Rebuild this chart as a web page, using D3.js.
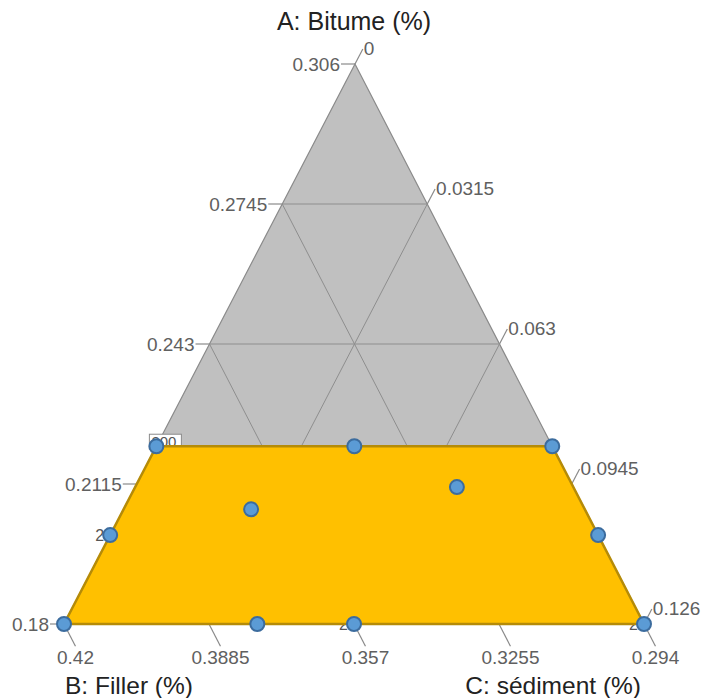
<!DOCTYPE html>
<html>
<head>
<meta charset="utf-8">
<script src="https://cdn.jsdelivr.net/npm/d3@7"></script>
<style>
  html, body { margin: 0; padding: 0; background: #fff; }
  svg { display: block; font-family: "Liberation Sans", Arial, sans-serif; }
</style>
</head>
<body>
<svg id="chart" width="704" height="698"></svg>
<script>
// ---- Data ----
const axisTitles = ["A: Bitume (%)", "B: Filler (%)", "C: sédiment (%)"];
const aTicks = [0.18, 0.2115, 0.243, 0.2745, 0.306];
const bTicks = [0.42, 0.3885, 0.357, 0.3255, 0.294];
const cTicks = [0, 0.0315, 0.063, 0.0945, 0.126];
const aTickLabels = ["0.18", "0.2115", "0.243", "0.2745", "0.306"];
const bTickLabels = ["0.42", "0.3885", "0.357", "0.3255", "0.294"];
const cTickLabels = ["0", "0.0315", "0.063", "0.0945", "0.126"];

// design points (real component values)
const ptA = [0.22, 0.22, 0.22, 0.18, 0.18, 0.18, 0.18, 0.20, 0.20, 0.2058, 0.2108];
const ptB = [0.38, 0.337, 0.294, 0.42, 0.378, 0.357, 0.294, 0.40, 0.294, 0.3665, 0.3193];
const ptC = [0, 0.043, 0.086, 0, 0.042, 0.063, 0.126, 0, 0.106, 0.0277, 0.0699];

// replicate labels (index into points, text)
const repIdx = [7, 5, 6];
const repText = ["2", "2", "2"];

// constrained region
const regA = [0.18, 0.22, 0.22, 0.18];
const regB = [0.42, 0.38, 0.294, 0.294];
const regC = [0, 0, 0.086, 0.126];

// ---- Scales ----
const aS = d3.scaleLinear().domain([0.18, 0.306]).range([0, 1]);
const bS = d3.scaleLinear().domain([0.294, 0.42]).range([0, 1]);
const cS = d3.scaleLinear().domain([0, 0.126]).range([0, 1]);

const V = { A: [355, 64], B: [64, 624], C: [644, 624] };
function proj(a, b, c) {
  return [a * V.A[0] + b * V.B[0] + c * V.C[0], a * V.A[1] + b * V.B[1] + c * V.C[1]];
}
function projReal(A, B, C) { return proj(aS(A), bS(B), cS(C)); }

const svg = d3.select("#chart");
const line = d3.line();

// grey triangle
svg.append("path")
  .attr("d", line([V.A, V.B, V.C]) + "Z")
  .attr("fill", "#c0c0c0").attr("stroke", "#8a8a8a").attr("stroke-width", 1.2);

// grid lines
const gridG = svg.append("g").attr("stroke", "#8e8e8e").attr("stroke-width", 1).attr("fill", "none");
[0.25, 0.5, 0.75].forEach(t => {
  gridG.append("path").attr("d", line([proj(t, 1 - t, 0), proj(t, 0, 1 - t)]));
  gridG.append("path").attr("d", line([proj(1 - t, t, 0), proj(0, t, 1 - t)]));
  gridG.append("path").attr("d", line([proj(1 - t, 0, t), proj(0, 1 - t, t)]));
});

// ticks + labels
const tickCol = "#8a8a8a", labCol = "#606060", fs = 19;
const tg = svg.append("g");
// A axis (left)
aTicks.forEach((v, i) => {
  const t = aS(v);
  const p = proj(t, 1 - t, 0);
  tg.append("line").attr("x1", p[0]).attr("y1", p[1]).attr("x2", p[0] - 14).attr("y2", p[1])
    .attr("stroke", tickCol).attr("stroke-width", 1.2);
  tg.append("text").attr("x", p[0] - 15).attr("y", p[1]).attr("dy", "0.35em")
    .attr("text-anchor", "end").attr("font-size", fs).attr("fill", labCol).text(aTickLabels[i]);
});
// C axis (right)
const dirL = [V.A[0] - V.B[0], V.A[1] - V.B[1]];
const lenL = Math.hypot(dirL[0], dirL[1]);
cTicks.forEach((v, i) => {
  const t = cS(v);
  const p = proj(1 - t, 0, t);
  const e = [p[0] + dirL[0] / lenL * 17, p[1] + dirL[1] / lenL * 17];
  tg.append("line").attr("x1", p[0]).attr("y1", p[1]).attr("x2", e[0]).attr("y2", e[1])
    .attr("stroke", tickCol).attr("stroke-width", 1.2);
  tg.append("text").attr("x", e[0] + 1).attr("y", e[1]).attr("dy", "0.3em")
    .attr("text-anchor", "start").attr("font-size", fs).attr("fill", labCol).text(cTickLabels[i]);
});
// B axis (bottom)
const dirR = [V.C[0] - V.A[0], V.C[1] - V.A[1]];
const lenR = Math.hypot(dirR[0], dirR[1]);
bTicks.forEach((v, i) => {
  const t = bS(v);
  const p = proj(0, t, 1 - t);
  const e = [p[0] + dirR[0] / lenR * 25, p[1] + dirR[1] / lenR * 25];
  tg.append("line").attr("x1", p[0]).attr("y1", p[1]).attr("x2", e[0]).attr("y2", e[1])
    .attr("stroke", tickCol).attr("stroke-width", 1.2);
  tg.append("text").attr("x", e[0]).attr("y", e[1] + 18)
    .attr("text-anchor", "middle").attr("font-size", fs).attr("fill", labCol).text(bTickLabels[i]);
});

// axis titles
svg.append("text").attr("x", 354).attr("y", 30).attr("text-anchor", "middle")
  .attr("font-size", 25).attr("fill", "#222").text(axisTitles[0]);
svg.append("text").attr("x", 65).attr("y", 694).attr("text-anchor", "start")
  .attr("font-size", 24.5).attr("fill", "#222").text(axisTitles[1]);
svg.append("text").attr("x", 641).attr("y", 694).attr("text-anchor", "end")
  .attr("font-size", 24.5).attr("fill", "#222").text(axisTitles[2]);

// replicate labels (drawn under the region, partly hidden)
const pts = ptA.map((a, i) => projReal(a, ptB[i], ptC[i]));
const labG = svg.append("g");
// boxed label near top-left vertex
{
  const p = pts[0];
  labG.append("rect").attr("x", p[0] - 7).attr("y", p[1] - 12).attr("width", 32).attr("height", 15)
    .attr("fill", "#fff").attr("stroke", "#8a8a8a").attr("stroke-width", 1);
  labG.append("text").attr("x", p[0] - 5).attr("y", p[1] + 1).attr("font-size", 15)
    .attr("fill", "#555").text("200");
}
repIdx.forEach((k, i) => {
  const p = pts[k];
  const dy = (k === 7) ? 0.35 : 0.1;
  labG.append("text").attr("x", p[0] - 6).attr("y", p[1] + (k === 7 ? 0 : 4)).attr("dy", dy + "em")
    .attr("text-anchor", "end").attr("font-size", 16).attr("fill", "#555").text(repText[i]);
});

// constrained region
const reg = regA.map((a, i) => projReal(a, regB[i], regC[i]));
svg.append("path").attr("d", line(reg) + "Z")
  .attr("fill", "#ffc000").attr("stroke", "#b58b08").attr("stroke-width", 2.5)
  .attr("stroke-linejoin", "round");

// design points
svg.append("g").selectAll("circle").data(pts).join("circle")
  .attr("cx", d => d[0]).attr("cy", d => d[1]).attr("r", 7)
  .attr("fill", "#5b9bd5").attr("stroke", "#3c6c9e").attr("stroke-width", 2);
</script>
</body>
</html>
